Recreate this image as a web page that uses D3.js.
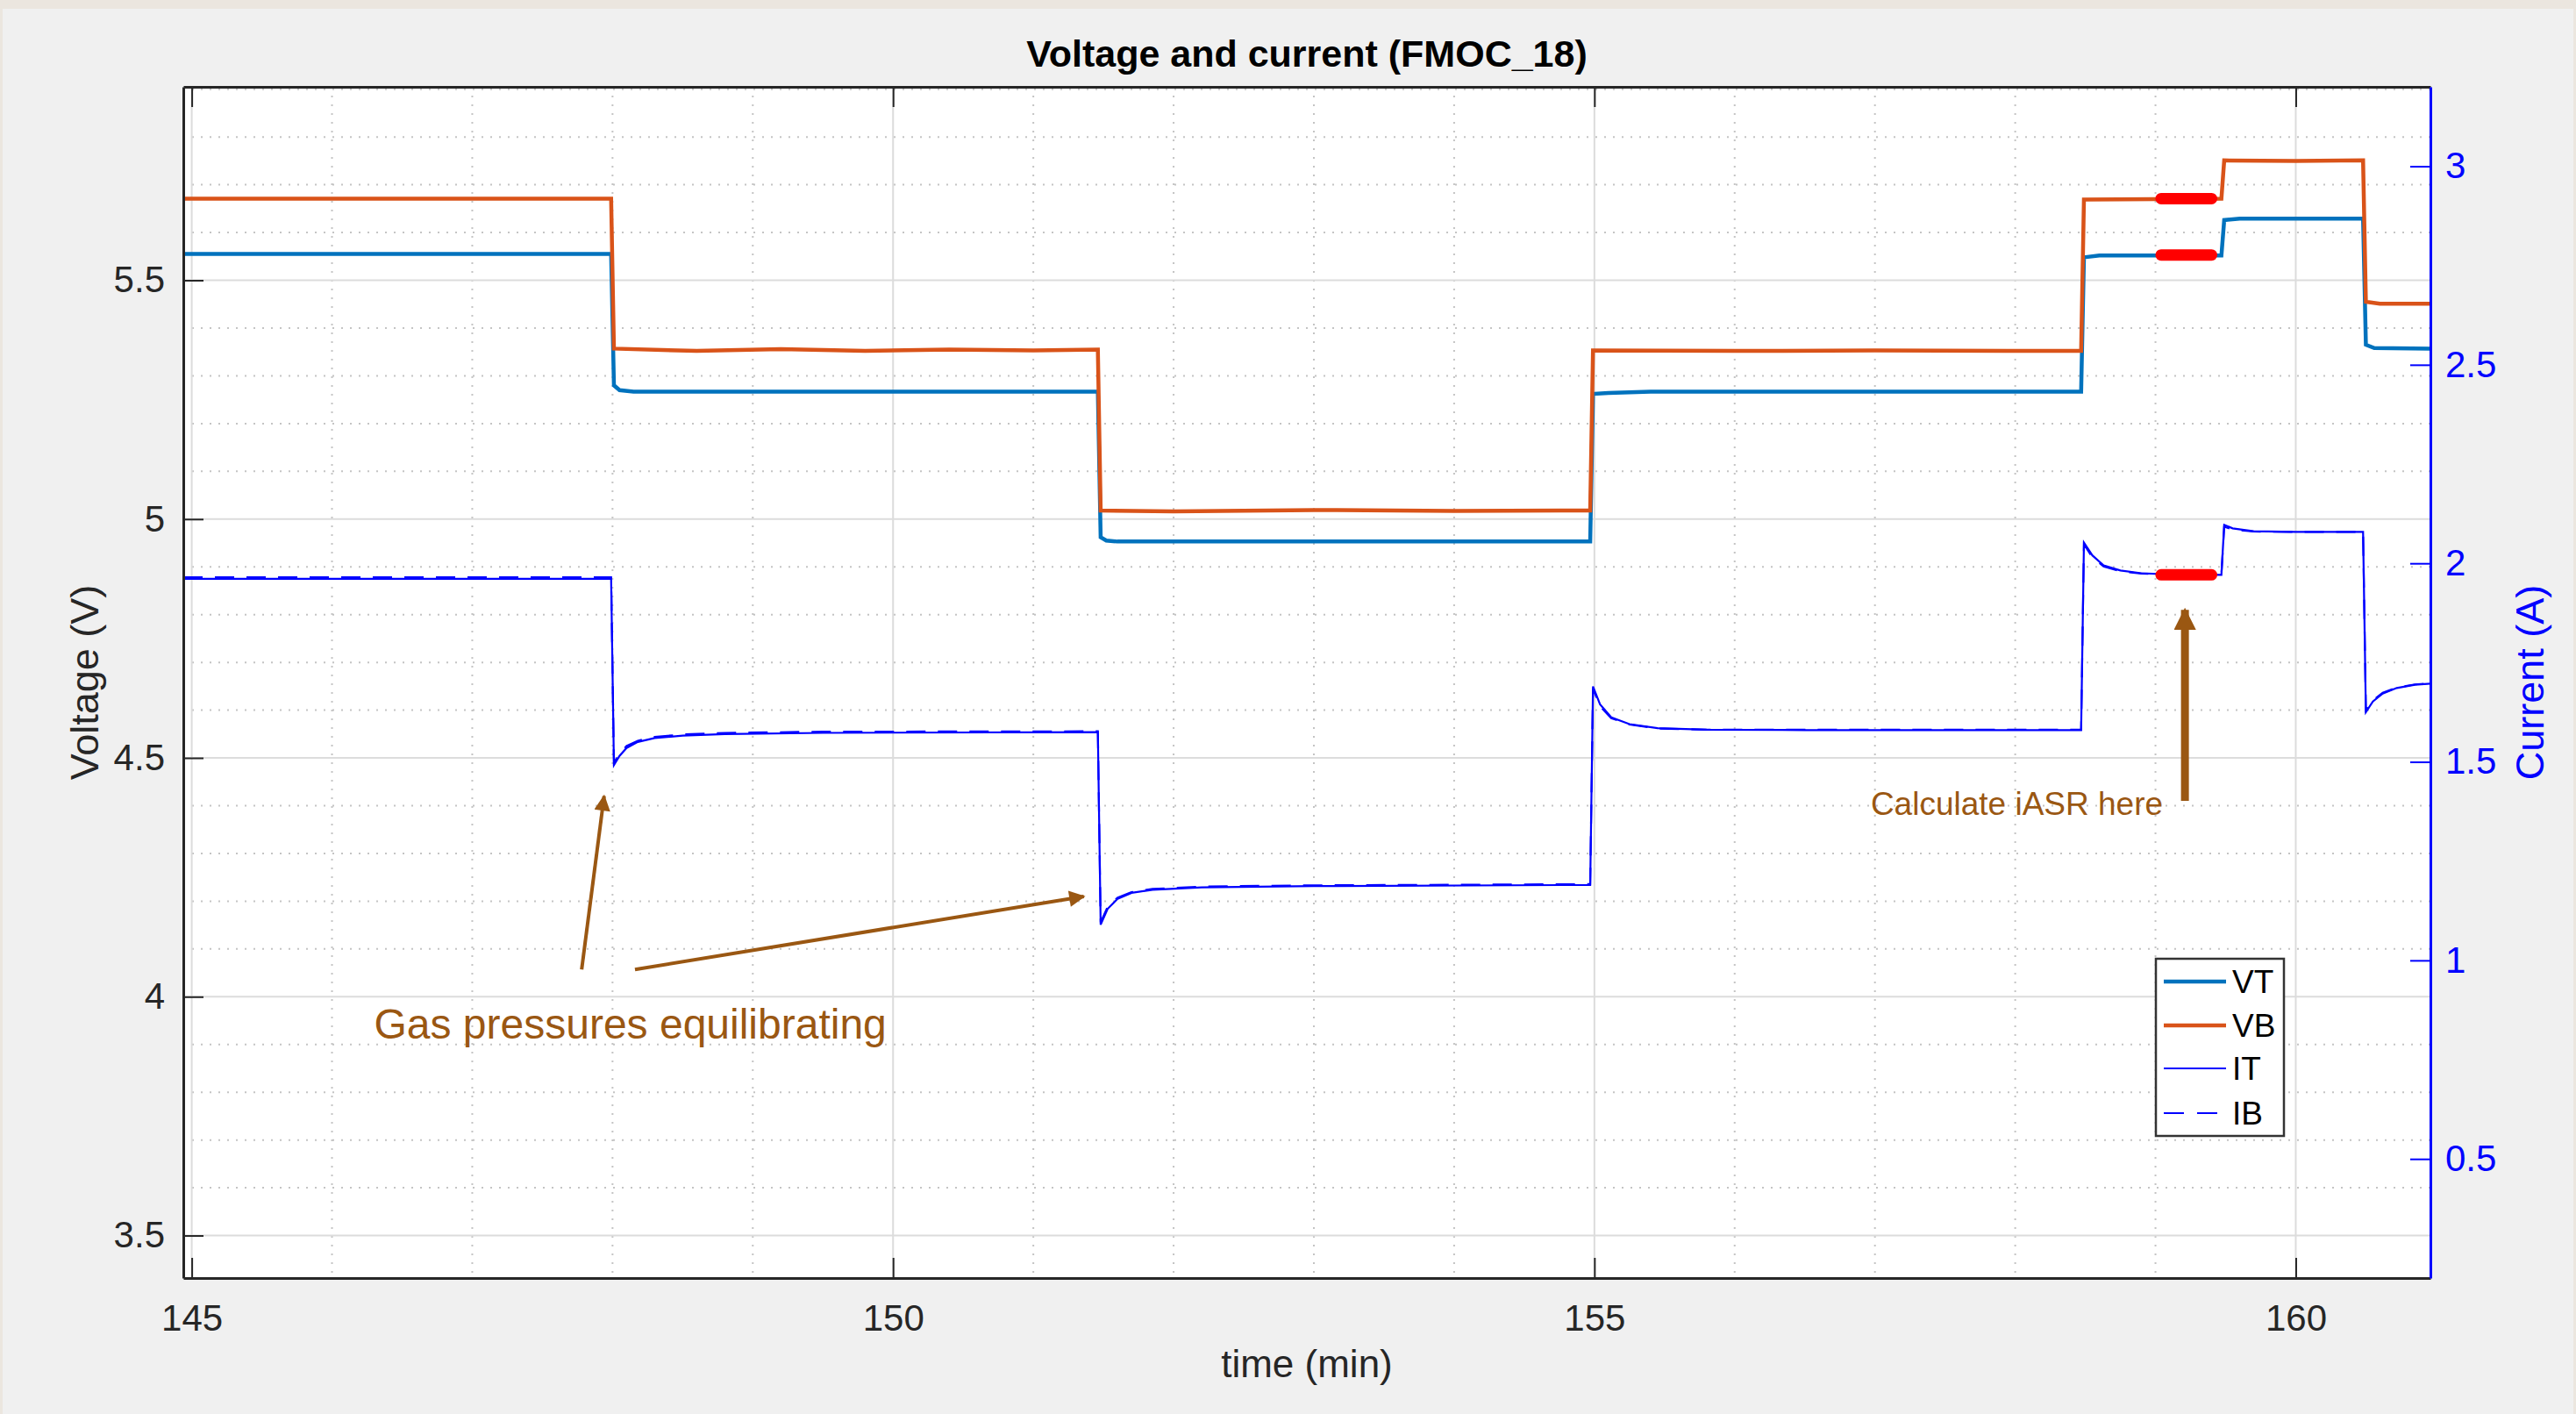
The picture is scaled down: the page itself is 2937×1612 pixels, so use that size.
<!DOCTYPE html>
<html>
<head>
<meta charset="utf-8">
<script src="https://cdn.jsdelivr.net/npm/d3@7"></script>
<style>
body { margin: 0; background: #ebe6df; }
svg { display: block; }
text { font-family: "Liberation Sans", Helvetica, Arial, sans-serif; }
</style>
</head>
<body>
<div id="chart"></div>
<script>
// ---- data (time in min, voltage in V, current in A) ----
var vbTime = [144.94, 147.99, 148.01, 148.6, 149.2, 149.8, 150.4, 151.0, 151.46, 151.48, 152.0, 153.0, 154.0, 154.97, 154.99, 156.0, 157.0, 158.0, 158.47, 158.49, 159.0, 159.47, 159.49, 160.0, 160.48, 160.50, 160.6, 160.96];
var vbVal  = [5.671, 5.671, 5.357, 5.352, 5.356, 5.352, 5.355, 5.353, 5.355, 5.018, 5.016, 5.019, 5.017, 5.018, 5.353, 5.352, 5.353, 5.352, 5.352, 5.669, 5.670, 5.671, 5.751, 5.750, 5.751, 5.455, 5.451, 5.451];

var vtTime = [144.94, 147.99, 148.01, 148.05, 148.15, 151.46, 151.48, 151.52, 151.6, 154.97, 154.99, 155.1, 155.4, 158.47, 158.49, 158.6, 159.47, 159.49, 159.6, 160.48, 160.50, 160.56, 160.96];
var vtVal  = [5.555, 5.555, 5.280, 5.270, 5.267, 5.267, 4.962, 4.955, 4.953, 4.953, 5.262, 5.264, 5.267, 5.267, 5.548, 5.552, 5.552, 5.626, 5.629, 5.629, 5.365, 5.358, 5.357];

var itTime = [144.94, 147.99, 148.01, 148.05, 148.1, 148.18, 148.3, 148.5, 148.8, 149.5, 151.46, 151.48, 151.53, 151.6, 151.7, 151.85, 152.2, 153.0, 154.97, 154.99, 155.04, 155.12, 155.25, 155.45, 155.8, 156.5, 158.47, 158.49, 158.55, 158.63, 158.75, 158.9, 159.1, 159.47, 159.49, 159.55, 159.7, 160.0, 160.48, 160.50, 160.55, 160.62, 160.72, 160.85, 160.96];
var itVal  = [1.961, 1.961, 1.492, 1.515, 1.535, 1.550, 1.560, 1.566, 1.570, 1.573, 1.575, 1.090, 1.130, 1.155, 1.170, 1.178, 1.184, 1.187, 1.190, 1.690, 1.645, 1.612, 1.595, 1.585, 1.581, 1.580, 1.580, 2.052, 2.020, 1.995, 1.982, 1.975, 1.972, 1.971, 2.097, 2.088, 2.081, 2.079, 2.079, 1.625, 1.652, 1.672, 1.686, 1.694, 1.697];

var ibTime = [144.94, 147.99, 148.01, 148.05, 148.1, 148.18, 148.3, 148.5, 148.8, 149.5, 151.46, 151.48, 151.53, 151.6, 151.7, 151.85, 152.2, 153.0, 154.97, 154.99, 155.04, 155.12, 155.25, 155.45, 155.8, 156.5, 158.47, 158.49, 158.55, 158.63, 158.75, 158.9, 159.1, 159.47, 159.49, 159.55, 159.7, 160.0, 160.48, 160.50, 160.55, 160.62, 160.72, 160.85, 160.96];
var ibVal  = [1.965, 1.965, 1.498, 1.520, 1.540, 1.553, 1.563, 1.569, 1.573, 1.576, 1.577, 1.096, 1.135, 1.158, 1.172, 1.180, 1.186, 1.189, 1.192, 1.685, 1.640, 1.610, 1.594, 1.584, 1.581, 1.581, 1.581, 2.048, 2.015, 1.992, 1.980, 1.974, 1.972, 1.972, 2.092, 2.085, 2.080, 2.079, 2.079, 1.630, 1.655, 1.674, 1.687, 1.695, 1.698];

// window used for iASR (red highlight)
var markTime = [159.04, 159.40];
var markVB = 5.671, markVT = 5.553, markIT = 1.971;

var xTicks = [145, 150, 155, 160];
var xMinor = [146, 147, 148, 149, 151, 152, 153, 154, 156, 157, 158, 159, 161];
var yLeftTicks = [3.5, 4, 4.5, 5, 5.5];
var yLeftMinor = [3.6, 3.7, 3.8, 3.9, 4.1, 4.2, 4.3, 4.4, 4.6, 4.7, 4.8, 4.9, 5.1, 5.2, 5.3, 5.4, 5.6, 5.7, 5.8, 5.9];
var yRightTicks = [0.5, 1, 1.5, 2, 2.5, 3];

var legendNames = ["VT", "VB", "IT", "IB"];

// ---- layout ----
var W = 2937, H = 1612;
var plot = {left: 209, right: 2771, top: 99, bottom: 1457};

var svg = d3.select("#chart").append("svg")
    .attr("width", W)
    .attr("height", H);

// figure background (grey panel inside a thin beige frame)
svg.append("rect").attr("x", 0).attr("y", 0).attr("width", W).attr("height", H).attr("fill", "#ebe6df");
svg.append("rect").attr("x", 3).attr("y", 10).attr("width", W - 6).attr("height", H - 10).attr("fill", "#f0f0f0");

var x = d3.scaleLinear().domain([144.94, 160.96]).range([plot.left, plot.right]);
var yL = d3.scaleLinear().domain([3.411, 5.905]).range([plot.bottom, plot.top]);
var yR = d3.scaleLinear().domain([0.2, 3.2]).range([plot.bottom, plot.top]);

svg.append("rect")
    .attr("x", plot.left).attr("y", plot.top)
    .attr("width", plot.right - plot.left).attr("height", plot.bottom - plot.top)
    .attr("fill", "white");

svg.append("clipPath").attr("id", "clip")
    .append("rect")
    .attr("x", plot.left).attr("y", plot.top)
    .attr("width", plot.right - plot.left).attr("height", plot.bottom - plot.top);

// ---- grid ----
var grid = svg.append("g").attr("clip-path", "url(#clip)");

grid.selectAll("line.xminor").data(xMinor).enter().append("line")
    .attr("x1", d => x(d)).attr("x2", d => x(d))
    .attr("y1", plot.top).attr("y2", plot.bottom)
    .attr("stroke", "#c4c4c4").attr("stroke-width", 2).attr("stroke-dasharray", "2,8");

grid.selectAll("line.yminor").data(yLeftMinor).enter().append("line")
    .attr("y1", d => yL(d)).attr("y2", d => yL(d))
    .attr("x1", plot.left).attr("x2", plot.right)
    .attr("stroke", "#c4c4c4").attr("stroke-width", 2).attr("stroke-dasharray", "2,8");

grid.selectAll("line.xmajor").data(xTicks).enter().append("line")
    .attr("x1", d => x(d)).attr("x2", d => x(d))
    .attr("y1", plot.top).attr("y2", plot.bottom)
    .attr("stroke", "#dcdcdc").attr("stroke-width", 2);

grid.selectAll("line.ymajor").data(yLeftTicks).enter().append("line")
    .attr("y1", d => yL(d)).attr("y2", d => yL(d))
    .attr("x1", plot.left).attr("x2", plot.right)
    .attr("stroke", "#dcdcdc").attr("stroke-width", 2);

// ---- series ----
var lines = svg.append("g").attr("clip-path", "url(#clip)");

function pts(ts, vs) {
    return ts.map(function (t, i) { return [t, vs[i]]; });
}

var lineL = d3.line().x(d => x(d[0])).y(d => yL(d[1]));
var lineR = d3.line().x(d => x(d[0])).y(d => yR(d[1]));

lines.append("path").attr("d", lineR(pts(itTime, itVal)))
    .attr("fill", "none").attr("stroke", "#0000ff").attr("stroke-width", 2.2);
lines.append("path").attr("d", lineR(pts(ibTime, ibVal)))
    .attr("fill", "none").attr("stroke", "#0000ff").attr("stroke-width", 2.2)
    .attr("stroke-dasharray", "22,14");

lines.append("path").attr("d", lineL(pts(vtTime, vtVal)))
    .attr("fill", "none").attr("stroke", "#0072bd").attr("stroke-width", 4.5);
lines.append("path").attr("d", lineL(pts(vbTime, vbVal)))
    .attr("fill", "none").attr("stroke", "#d95319").attr("stroke-width", 4.5);

// red iASR window
[[yL, markVB], [yL, markVT], [yR, markIT]].forEach(function (m) {
    lines.append("line")
        .attr("x1", x(markTime[0])).attr("x2", x(markTime[1]))
        .attr("y1", m[0](m[1])).attr("y2", m[0](m[1]))
        .attr("stroke", "#ff0000").attr("stroke-width", 13)
        .attr("stroke-linecap", "round");
});

// ---- axes ----
var tickFont = 42;

var gB = svg.append("g").attr("transform", "translate(0," + plot.bottom + ")")
    .call(d3.axisBottom(x).tickValues(xTicks).tickFormat(d3.format("d"))
        .tickSize(-23).tickSizeOuter(0).tickPadding(30));
var gT = svg.append("g").attr("transform", "translate(0," + plot.top + ")")
    .call(d3.axisTop(x).tickValues(xTicks).tickFormat("")
        .tickSize(-23).tickSizeOuter(0));
var gL = svg.append("g").attr("transform", "translate(" + plot.left + ",0)")
    .call(d3.axisLeft(yL).tickValues(yLeftTicks).tickFormat(d3.format("~g"))
        .tickSize(-23).tickSizeOuter(0).tickPadding(21));
var gR = svg.append("g").attr("transform", "translate(" + plot.right + ",0)")
    .call(d3.axisRight(yR).tickValues(yRightTicks).tickFormat(d3.format("~g"))
        .tickSize(-23).tickSizeOuter(0).tickPadding(17));

[gB, gT, gL].forEach(function (g) {
    g.select(".domain").attr("stroke", "#262626").attr("stroke-width", 3);
    g.selectAll(".tick line").attr("stroke", "#262626").attr("stroke-width", 2);
    g.selectAll(".tick text").attr("fill", "#262626").style("font-size", tickFont + "px");
});
gR.select(".domain").attr("stroke", "#0000ff").attr("stroke-width", 3);
gR.selectAll(".tick line").attr("stroke", "#0000ff").attr("stroke-width", 2);
gR.selectAll(".tick text").attr("fill", "#0000ff").style("font-size", tickFont + "px");

// ---- titles ----
svg.append("text")
    .attr("x", (plot.left + plot.right) / 2).attr("y", 76)
    .attr("text-anchor", "middle")
    .style("font-size", "43px").style("font-weight", "bold")
    .attr("fill", "#000")
    .text("Voltage and current (FMOC_18)");

svg.append("text")
    .attr("x", (plot.left + plot.right) / 2).attr("y", 1570)
    .attr("text-anchor", "middle")
    .style("font-size", "44px")
    .attr("fill", "#262626")
    .text("time (min)");

svg.append("text")
    .attr("transform", "translate(112," + (plot.top + plot.bottom) / 2 + ") rotate(-90)")
    .attr("text-anchor", "middle")
    .style("font-size", "45px")
    .attr("fill", "#262626")
    .text("Voltage (V)");

svg.append("text")
    .attr("transform", "translate(2900," + (plot.top + plot.bottom) / 2 + ") rotate(-90)")
    .attr("text-anchor", "middle")
    .style("font-size", "45px")
    .attr("fill", "#0000ff")
    .text("Current (A)");

// ---- annotations (placed in data units of the left axis) ----
var brown = "#9a5712";
var defs = svg.append("defs");
defs.append("marker").attr("id", "head").attr("viewBox", "0 0 10 10")
    .attr("refX", 9).attr("refY", 5)
    .attr("markerWidth", 5.5).attr("markerHeight", 4.6)
    .attr("markerUnits", "strokeWidth")
    .attr("orient", "auto")
    .append("path").attr("d", "M0,0 L10,5 L0,10 z").attr("fill", brown);
defs.append("marker").attr("id", "head2").attr("viewBox", "0 0 10 10")
    .attr("refX", 9).attr("refY", 5)
    .attr("markerWidth", 2.8).attr("markerHeight", 2.8)
    .attr("markerUnits", "strokeWidth")
    .attr("orient", "auto")
    .append("path").attr("d", "M0,0 L10,5 L0,10 z").attr("fill", brown);

var arrows = [
    {t0: 147.78, v0: 4.057, t1: 147.94, v1: 4.42, w: 4, m: "head"},
    {t0: 148.16, v0: 4.057, t1: 151.36, v1: 4.21, w: 4, m: "head"},
    {t0: 159.21, v0: 4.41, t1: 159.21, v1: 4.81, w: 9, m: "head2"}
];
svg.selectAll("line.arrow").data(arrows).enter().append("line")
    .attr("class", "arrow")
    .attr("x1", d => x(d.t0)).attr("y1", d => yL(d.v0))
    .attr("x2", d => x(d.t1)).attr("y2", d => yL(d.v1))
    .attr("stroke", brown).attr("stroke-width", d => d.w)
    .attr("marker-end", d => "url(#" + d.m + ")");

svg.append("text")
    .attr("x", x(146.30)).attr("y", yL(3.912))
    .style("font-size", "48px").attr("fill", brown)
    .text("Gas pressures equilibrating");

svg.append("text")
    .attr("x", x(156.97)).attr("y", yL(4.380))
    .style("font-size", "37px").attr("fill", brown)
    .text("Calculate iASR here");

// ---- legend ----
var legend = svg.append("g").attr("transform", "translate(2458,1093)");
legend.append("rect").attr("width", 146).attr("height", 202)
    .attr("fill", "white").attr("stroke", "#333").attr("stroke-width", 2.5);

var legStyle = [
    {c: "#0072bd", w: 4.5, dash: null},
    {c: "#d95319", w: 4.5, dash: null},
    {c: "#0000ff", w: 2.2, dash: null},
    {c: "#0000ff", w: 2.2, dash: "23,15"}
];
var rowY = [26, 76, 125, 176];
legendNames.forEach(function (name, i) {
    legend.append("line")
        .attr("x1", 9).attr("x2", 80)
        .attr("y1", rowY[i]).attr("y2", rowY[i])
        .attr("stroke", legStyle[i].c).attr("stroke-width", legStyle[i].w)
        .attr("stroke-dasharray", legStyle[i].dash);
    legend.append("text")
        .attr("x", 87).attr("y", rowY[i] + 13)
        .style("font-size", "37px").attr("fill", "#000")
        .text(name);
});
</script>
</body>
</html>
